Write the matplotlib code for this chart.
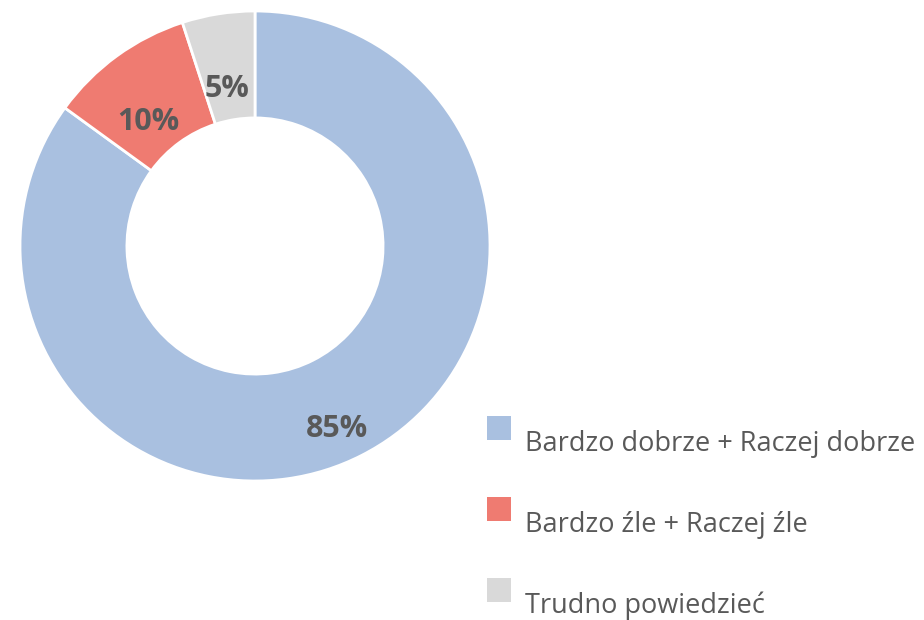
import matplotlib.pyplot as plt
import matplotlib.transforms as mtransforms
from matplotlib.patches import Rectangle

# data
categories = ["Bardzo dobrze + Raczej dobrze", "Bardzo źle + Raczej źle", "Trudno powiedzieć"]
values = [85, 10, 5]
colors = ["#A9C0E0", "#EF7B71", "#D9D9D9"]
text_color = "#595959"

W, H = 924, 620
fig = plt.figure(figsize=(W / 100, H / 100), dpi=100)

# pie centre at (255, 246) px, outer radius 235 px
cx, cy, r = 255, 246, 235
ax = fig.add_axes([(cx - r) / W, (H - cy - r) / H, 2 * r / W, 2 * r / H])

wedges, texts, autotexts = ax.pie(
    values,
    colors=colors,
    startangle=90,
    counterclock=False,
    radius=1,
    autopct=lambda p: f"{p:.0f}%",
    pctdistance=0.77,
    wedgeprops=dict(width=0.455, edgecolor="white", linewidth=2),
    textprops=dict(color=text_color, fontsize=22, fontweight="bold", family="Open Sans"),
)
# labels sit a little lower than the ring centre line
for t in autotexts:
    t.set_transform(mtransforms.offset_copy(t.get_transform(), fig=fig, x=0, y=-22, units="dots"))

ax.set_xlim(-1, 1)
ax.set_ylim(-1, 1)
ax.set_aspect("equal")
ax.axis("off")

# legend, drawn by hand in figure pixels
box_x, box_size = 487, 24
box_tops = [416, 497, 578]
for cat, col, top in zip(categories, colors, box_tops):
    fig.add_artist(Rectangle((box_x / W, (H - top - box_size) / H), box_size / W, box_size / H,
                             transform=fig.transFigure, facecolor=col, edgecolor="none"))
    fig.text(525 / W, (H - top - 28) / H, cat, transform=fig.transFigure,
             ha="left", va="center", fontsize=19.5, color=text_color, family="Open Sans")

fig.savefig("out.png", dpi=100)
